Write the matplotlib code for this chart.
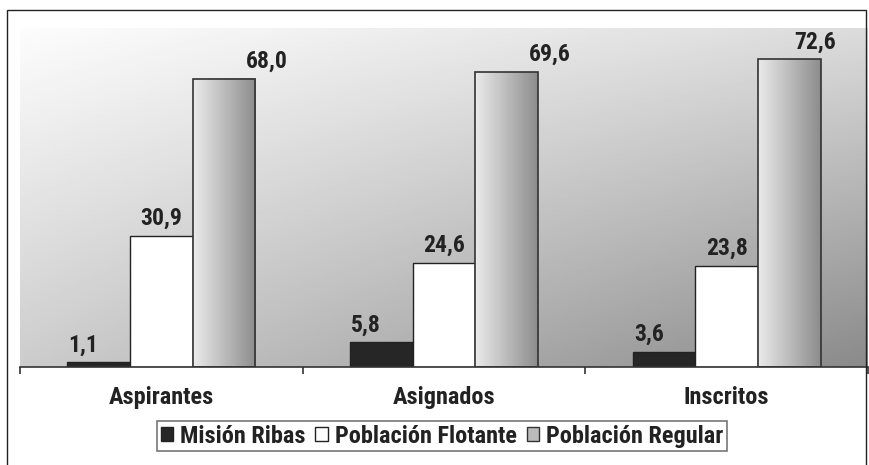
import numpy as np
import matplotlib
matplotlib.use('Agg')
import matplotlib.pyplot as plt
from matplotlib.patches import Rectangle, Patch

plt.rcParams['font.family'] = ['Roboto Condensed', 'PT Sans Narrow', 'DejaVu Sans']
plt.rcParams['font.weight'] = 'bold'

# Data
categories = ['Aspirantes', 'Asignados', 'Inscritos']
series = ['Misión Ribas', 'Población Flotante', 'Población Regular']
mision = [1.1, 5.8, 3.6]
flotante = [30.9, 24.6, 23.8]
regular = [68.0, 69.6, 72.6]

W, H = 870, 465
fig = plt.figure(figsize=(W / 100, H / 100), dpi=100)
fig.patch.set_facecolor('white')

# outer frame
fig.patches.append(Rectangle((7 / W, -0.01), (866 - 7) / W, 1 - 10 / H + 0.01,
                             transform=fig.transFigure, fill=False,
                             edgecolor='#222222', linewidth=1.0))

# plot area with diagonal gradient
left, right, top, bottom = 20, 868, 28, 367
ax = fig.add_axes([left / W, 1 - bottom / H, (right - left) / W, (bottom - top) / H])
ny, nx = 200, 400
xx, yy = np.meshgrid(np.linspace(0, 1, nx), np.linspace(0, 1, ny))
shade = 0.99 - 0.13 * xx - 0.19 * yy - 0.13 * xx * yy
shade = np.clip(shade, 0, 1)
ax.imshow(shade, cmap='gray', vmin=0, vmax=1, extent=[0, 1, 0, 1],
          transform=ax.transAxes, aspect='auto', zorder=0, origin='upper')

x = np.arange(len(categories))
bw = 0.222
b1 = ax.bar(x - bw, mision, bw, color='#262626', edgecolor='#222222', linewidth=1, zorder=2)
b2 = ax.bar(x, flotante, bw, color='white', edgecolor='#222222', linewidth=1, zorder=2)
b3 = ax.bar(x + bw, regular, bw, color='none', edgecolor='#333333', linewidth=1.2, zorder=3)

# horizontal gradient inside regular bars
grad = np.linspace(0.92, 0.55, 100).reshape(1, -1)
for p in b3:
    ax.imshow(grad, cmap='gray', vmin=0, vmax=1, aspect='auto', zorder=2,
              extent=[p.get_x(), p.get_x() + p.get_width(), 0, p.get_height()])

ax.set_xlim(-0.5, 2.5)
ax.set_ylim(0, 80)

# value labels (horizontal offsets in pixels per series)
offsets = [[-15, -15, -15], [0, 0, 0], [43, 43, 26]]
for bars, offs in zip([b1, b2, b3], offsets):
    for p, dx in zip(bars, offs):
        ax.annotate(f'{p.get_height():.1f}'.replace('.', ','),
                    (p.get_x() + p.get_width() / 2, p.get_height()),
                    xytext=(dx, 6), textcoords='offset pixels',
                    ha='center', va='bottom', fontsize=17, fontweight='bold',
                    color='#222222', zorder=4)

for s in ['top', 'right', 'left']:
    ax.spines[s].set_visible(False)
ax.spines['bottom'].set_color('#333333')
ax.spines['bottom'].set_linewidth(1.2)
ax.set_yticks([])
ax.set_xticks([-0.5, 0.5, 1.5, 2.5])
ax.set_xticklabels([])
ax.set_xticks(x, minor=True)
ax.set_xticklabels(categories, minor=True, fontsize=17.5, fontweight='bold', color='#222222')
ax.tick_params(axis='x', which='major', length=5, width=1.2, color='#333333')
ax.tick_params(axis='x', which='minor', length=0, pad=14)

handles = [Patch(facecolor='#262626', edgecolor='#222222'),
           Patch(facecolor='white', edgecolor='#222222'),
           Patch(facecolor='#bbbbbb', edgecolor='#333333')]
leg = fig.legend(handles, series, loc='center', bbox_to_anchor=(442 / W, 1 - 436 / H),
                 ncol=3, frameon=True, fancybox=False, fontsize=17.5,
                 handlelength=0.5, handleheight=0.5, handletextpad=0.3,
                 columnspacing=0.4, borderpad=0.15, edgecolor='#555555')
leg.get_frame().set_linewidth(1.2)
for t in leg.get_texts():
    t.set_color('#222222')
    t.set_fontweight('bold')

fig.savefig('out.png', dpi=100)
